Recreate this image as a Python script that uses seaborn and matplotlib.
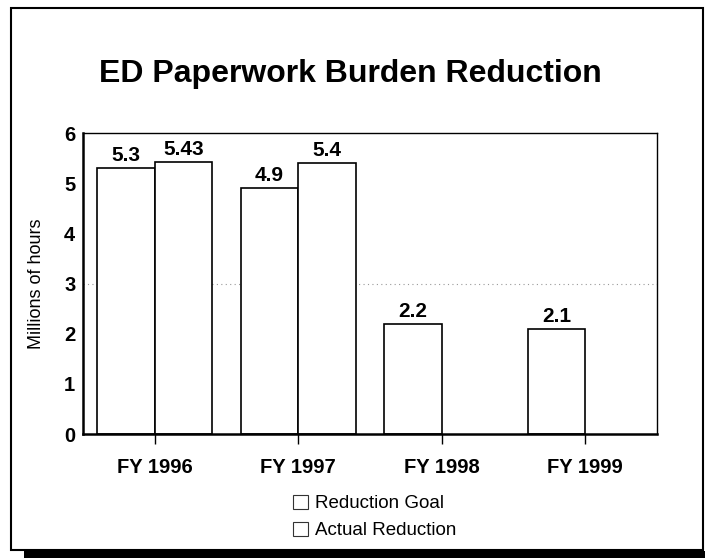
import matplotlib
matplotlib.use("Agg")
import matplotlib.pyplot as plt
from matplotlib.patches import Rectangle
import seaborn as sns
import pandas as pd

# Chart data
YEARS = ["FY 1996", "FY 1997", "FY 1998", "FY 1999"]
GOAL = [5.3, 4.9, 2.2, 2.1]
ACTUAL = [5.43, 5.4, None, None]
SERIES = ["Reduction Goal", "Actual Reduction"]
GOAL_LABELS = ["5.3", "4.9", "2.2", "2.1"]
ACTUAL_LABELS = ["5.43", "5.4"]

sns.set_style("white")
plt.rcParams["font.family"] = ["Liberation Sans", "DejaVu Sans"]
plt.rcParams["text.color"] = "black"
plt.rcParams["axes.labelcolor"] = "black"
plt.rcParams["xtick.color"] = "black"
plt.rcParams["ytick.color"] = "black"

df = pd.DataFrame({
    "year": YEARS * 2,
    "value": GOAL + ACTUAL,
    "series": [SERIES[0]] * len(YEARS) + [SERIES[1]] * len(YEARS),
}).dropna()

fig = plt.figure(figsize=(7.05, 5.58), dpi=100)
ax = fig.add_axes([0.1177, 0.2222, 0.8143, 0.5394])

sns.barplot(data=df, x="year", y="value", hue="series", order=YEARS,
            hue_order=SERIES, palette=["white", "white"], edgecolor="black",
            linewidth=1.2, width=0.8, ax=ax, legend=True)

# value labels above each bar
for cont, labels in zip(ax.containers, [GOAL_LABELS, ACTUAL_LABELS]):
    ax.bar_label(cont, labels=labels, padding=2, fontsize=15, fontweight="bold")

# the single dotted gridline at 3
ax.axhline(3, color="#999999", linestyle=(0, (1, 3)), linewidth=0.8, zorder=0)

ax.set_ylim(0, 6)
ax.set_xlim(-0.5, 3.5)
ax.set_yticks(range(7))
ax.set_xlabel("")
ax.set_ylabel("Millions of hours", fontsize=13, labelpad=14)
for lab in ax.get_xticklabels() + ax.get_yticklabels():
    lab.set_fontweight("bold")
    lab.set_fontsize(14.5)
ax.tick_params(axis="x", bottom=True, length=7, width=1, direction="out", pad=10)
ax.tick_params(axis="y", left=False, pad=2)
for s in ax.spines.values():
    s.set_visible(True)
    s.set_color("black")
    s.set_linewidth(1.0)
ax.spines["bottom"].set_linewidth(1.8)
ax.spines["left"].set_linewidth(1.8)

leg = ax.legend(loc="upper center", bbox_to_anchor=(0.508, -0.145), frameon=False,
                fontsize=13.5, handlelength=0.8, handleheight=0.8,
                handletextpad=0.4, labelspacing=0.5)
for h in leg.legend_handles:
    h.set_edgecolor("#333333")
    h.set_linewidth(0.8)

fig.text(0.497, 0.867, "ED Paperwork Burden Reduction", ha="center", va="center",
         fontsize=23, fontweight="bold")

# outer frame and bottom bar
fig.patches.append(Rectangle((11 / 705, 8 / 558), 692 / 705, 542 / 558,
                             transform=fig.transFigure, fill=False,
                             edgecolor="black", linewidth=1.5))
fig.patches.append(Rectangle((24 / 705, 0), 681 / 705, 7 / 558,
                             transform=fig.transFigure, facecolor="black",
                             edgecolor="none"))

fig.savefig("out.png", dpi=100)
